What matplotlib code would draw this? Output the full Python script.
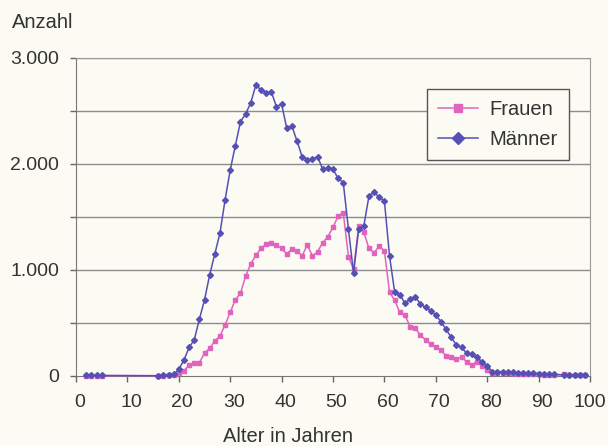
import matplotlib.pyplot as plt
from matplotlib import ticker, transforms
import numpy as np

plt.rcParams.update({'font.family': ['Liberation Sans', 'DejaVu Sans'], 'font.size': 14.5})

PINK = '#e064bd'
BLUE = '#5650b4'
TEXT = '#333333'
PAPER = '#fbfaf3'

ages = [2, 3, 4, 5] + list(range(16, 94)) + [95, 96, 97, 98, 99]

maenner = [5, 5, 5, 5,
           3, 5, 8, 15, 63, 151, 270, 340, 535, 717,                    # 16-25
           953, 1151, 1346, 1660, 1943, 2173, 2399, 2472, 2578, 2745,   # 26-35
           2698, 2673, 2679, 2541, 2566, 2337, 2358, 2217, 2069, 2038,  # 36-45
           2047, 2069, 1950, 1959, 1950, 1865, 1824, 1387, 969, 1387,   # 46-55
           1418, 1698, 1733, 1686, 1651, 1132, 790, 768, 686, 724,      # 56-65
           748, 679, 648, 616, 575, 512, 440, 365, 292, 271,            # 66-75
           214, 205, 176, 135, 94, 41, 42, 40, 35, 38,                  # 76-85
           33, 30, 28, 25, 22, 20, 15, 15,                              # 86-93
           10, 10, 10, 8, 5]

frauen = [3, 3, 3, 3,
          2, 3, 5, 8, 25, 47, 104, 120, 126, 214,                       # 16-25
          262, 330, 377, 481, 600, 720, 780, 943, 1057, 1141,           # 26-35
          1204, 1245, 1252, 1236, 1204, 1151, 1198, 1179, 1135, 1236,   # 36-45
          1132, 1173, 1258, 1314, 1403, 1509, 1541, 1126, 1007, 1418,   # 46-55
          1355, 1204, 1163, 1226, 1180, 790, 714, 600, 575, 465,        # 56-65
          450, 387, 340, 299, 271, 245, 189, 176, 160, 176,             # 66-75
          135, 104, 135, 94, 57, 25, 30, 28, 25, 25,                    # 76-85
          22, 20, 18, 15, 15, 12, 10, 10,                               # 86-93
          15, 8, 8, 5, 5]

xticks = np.arange(0, 101, 10)
yticks = np.arange(0, 3001, 500)

fig = plt.figure(figsize=(6.08, 4.46), dpi=100, facecolor=PAPER)
ax = fig.add_axes([76 / 608, 70 / 446, (590 - 76) / 608, (376 - 58) / 446], facecolor=PAPER)

for y in yticks[1:]:
    ax.axhline(y, color='#8c8c8c', lw=1, zorder=1)

ax.plot(ages, frauen, color=PINK, lw=1.1, marker='s', ms=2.8, mec=PINK, clip_on=False, zorder=3, label='Frauen')
ax.plot(ages, maenner, color=BLUE, lw=1.1, marker='D', ms=3.0, mec=BLUE, clip_on=False, zorder=4, label='Männer')

ax.set_xlim(0, 100)
ax.set_ylim(0, 3000)
ax.set_xticks(xticks)
ax.set_yticks(yticks)
ax.yaxis.set_major_formatter(ticker.FuncFormatter(
    lambda v, pos: '{:,.0f}'.format(v).replace(',', '.') if v % 1000 == 0 else ''))

ax.tick_params(axis='both', colors='#666666', labelcolor=TEXT, length=4, width=1, labelsize=14)
ax.tick_params(axis='y', pad=8)
ax.tick_params(axis='x', pad=9)
# Excel puts the x labels a little right of the tick marks (not the last one)
shift = transforms.ScaledTranslation(3.5 / 100, 0, fig.dpi_scale_trans)
for lab in ax.get_xticklabels()[:-1]:
    lab.set_transform(lab.get_transform() + shift)

for side in ['left', 'bottom']:
    ax.spines[side].set_color('#777777')
for side in ['top', 'right']:
    ax.spines[side].set_color('#9a9a9a')

fig.text(12 / 608, 1 - 22 / 446, 'Anzahl', ha='left', va='center', color=TEXT)
fig.text(288 / 608, 1 - 437 / 446, 'Alter in Jahren', ha='center', va='center', color=TEXT)

leg = ax.legend(loc='upper left', bbox_to_anchor=(427 / 608, 1 - 89 / 446), bbox_transform=fig.transFigure,
                frameon=True, fancybox=False, edgecolor='#555555', facecolor=PAPER, framealpha=1,
                handlelength=2.0, handletextpad=0.55, borderpad=0.55, labelspacing=0.55,
                markerscale=1.9, borderaxespad=0)
leg.get_frame().set_linewidth(1)
for t in leg.get_texts():
    t.set_color(TEXT)

fig.savefig('out.png', dpi=100, facecolor=PAPER)
